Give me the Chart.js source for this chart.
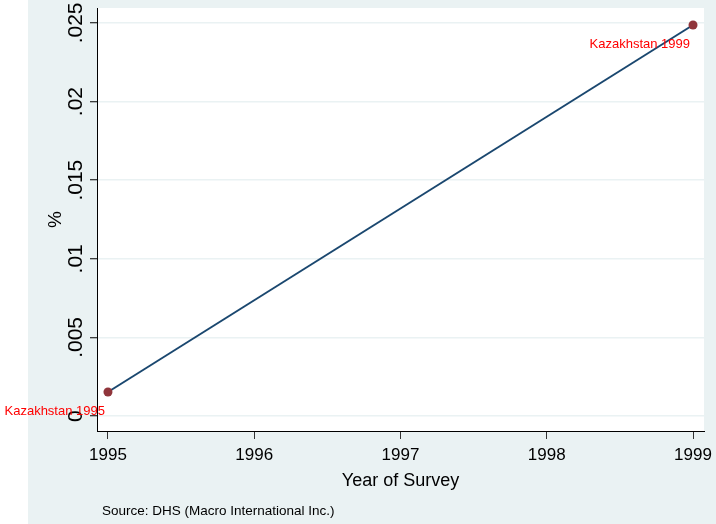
<!DOCTYPE html>
<html><head><meta charset="utf-8">
<script src="https://cdn.jsdelivr.net/npm/chart.js@4"></script>
<style>html,body{margin:0;padding:0;background:#fff;}#wrap{width:716px;height:524px;}</style>
</head><body><div id="wrap"><canvas id="c" width="716" height="524"></canvas></div>
<script>
const years = [1995, 1999];
const values = [0.00153, 0.02487];
const pointLabels = ['Kazakhstan 1995', 'Kazakhstan 1999'];
const xTickValues = [1995, 1996, 1997, 1998, 1999];
const yTickValues = [0, 0.005, 0.01, 0.015, 0.02, 0.025];
const yTickLabels = ['0', '.005', '.01', '.015', '.02', '.025'];
const xTitle = 'Year of Survey';
const yTitle = '%';
const sourceNote = 'Source: DHS (Macro International Inc.)';

const FONT = '"Liberation Sans", Arial, sans-serif';
const BG = '#EAF2F3';

const bgPlugin = {
  id: 'bg',
  beforeDraw(chart) {
    const ctx = chart.ctx, a = chart.chartArea;
    ctx.save();
    ctx.fillStyle = '#ffffff';
    ctx.fillRect(0, 0, chart.width, chart.height);
    ctx.fillStyle = BG;
    ctx.fillRect(28, 0, chart.width - 28, chart.height);
    ctx.fillStyle = '#ffffff';
    ctx.fillRect(a.left, a.top, a.right - a.left, a.bottom - a.top);
    ctx.restore();
  },
  afterDraw(chart) {
    const ctx = chart.ctx;
    ctx.save();
    ctx.font = '13.5px ' + FONT;
    ctx.fillStyle = '#000';
    ctx.textAlign = 'left';
    ctx.textBaseline = 'alphabetic';
    ctx.fillText(sourceNote, 102, 515);
    ctx.restore();
  }
};

const labelPlugin = {
  id: 'ptlabels',
  afterDatasetsDraw(chart) {
    const ctx = chart.ctx;
    const meta = chart.getDatasetMeta(0);
    ctx.save();
    ctx.font = '13px ' + FONT;
    ctx.fillStyle = '#FF0000';
    ctx.textAlign = 'right';
    ctx.textBaseline = 'middle';
    meta.data.forEach((pt, i) => {
      ctx.fillText(pointLabels[i], pt.x - 3, pt.y + 19);
    });
    ctx.restore();
  }
};

function zeroPad(s) { s.paddingTop = 0; s.paddingBottom = 0; s.paddingLeft = 0; s.paddingRight = 0; }

new Chart(document.getElementById('c'), {
  type: 'line',
  data: {
    datasets: [{
      data: years.map((y, i) => ({x: y, y: values[i]})),
      borderColor: '#1A476F',
      borderWidth: 2,
      pointBackgroundColor: '#90353B',
      pointBorderColor: '#90353B',
      pointRadius: 4.5,
      pointBorderWidth: 0,
      fill: false,
      tension: 0
    }]
  },
  options: {
    responsive: false,
    animation: false,
    devicePixelRatio: 1,
    layout: {padding: {top: 8, right: 12, left: 0, bottom: 0}},
    plugins: {legend: {display: false}, tooltip: {enabled: false}},
    scales: {
      x: {
        type: 'linear',
        min: 1994.925,
        max: 1999.075,
        afterBuildTicks: s => { s.ticks = xTickValues.map(v => ({value: v})); },
        afterFit: s => { s.height = 93; zeroPad(s); },
        grid: {drawOnChartArea: false, drawTicks: true, tickLength: 8, tickColor: '#333', tickWidth: 1},
        border: {display: true, color: '#000', width: 1},
        ticks: {autoSkip: false, maxRotation: 0, minRotation: 0, padding: 6, color: '#000',
                font: {family: FONT, size: 17}, callback: v => String(v)},
        title: {display: true, text: xTitle, color: '#000', font: {family: FONT, size: 18},
                padding: {top: 0, bottom: 32}}
      },
      y: {
        type: 'linear',
        min: -0.00095,
        max: 0.02595,
        afterBuildTicks: s => { s.ticks = yTickValues.map(v => ({value: v})); },
        afterFit: s => { s.width = 97; zeroPad(s); },
        grid: {drawOnChartArea: true, color: BG, lineWidth: 1.5, drawTicks: true, tickLength: 7, tickColor: '#000', tickWidth: 1},
        border: {display: true, color: '#000', width: 1},
        ticks: {autoSkip: false, minRotation: 90, maxRotation: 90, crossAlign: 'center', padding: -7, color: '#000',
                font: {family: FONT, size: 21},
                callback: (v) => { const i = yTickValues.indexOf(v); return i >= 0 ? yTickLabels[i] : ''; }},
        title: {display: true, text: yTitle, color: '#000', font: {family: FONT, size: 19},
                padding: {top: 44, bottom: 0}}
      }
    }
  },
  plugins: [bgPlugin, labelPlugin]
});
</script>
</body></html>
